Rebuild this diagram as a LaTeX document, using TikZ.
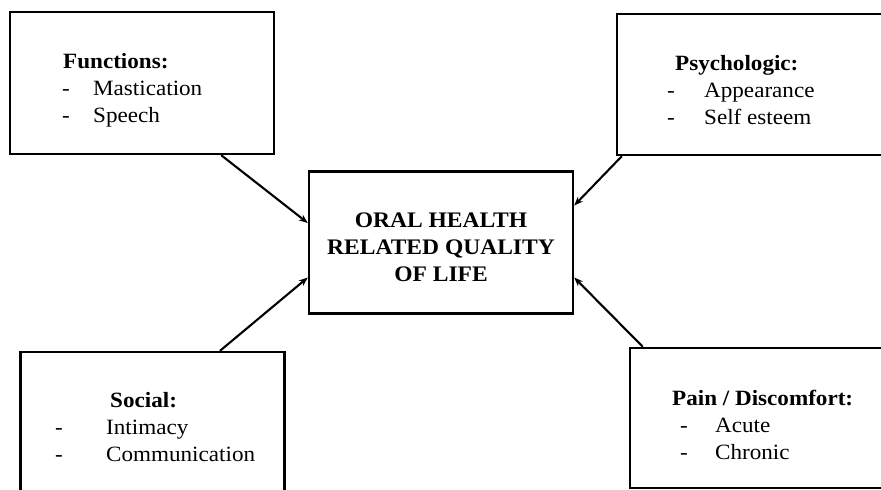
\documentclass[tikz,border=0pt]{standalone}
\usepackage{fontspec}
\setmainfont[FakeStretch=1.06]{Liberation Serif}
\usetikzlibrary{arrows.meta}

% title line, then two "-" items; #1 title indent, #2 gap after the dash
\newcommand{\factortext}[5]{\begin{tabular}[t]{@{}l@{}}\hspace*{#1pt}\textbf{#3}\\ \makebox[#2pt][l]{-}#4\\ \makebox[#2pt][l]{-}#5\end{tabular}}

\begin{document}
\begin{tikzpicture}[x=1pt,y=-1pt]
	\useasboundingbox (0,0) rectangle (881,490);
	\clip (0,0) rectangle (881,490);
	\tikzstyle{every node}=[font=\fontsize{21.8}{27}\selectfont, inner sep=0pt]
	\tikzstyle{frame}=[draw, line width=2.4pt, minimum width=264pt, minimum height=142pt]
	% the five boxes
	\draw (441,242.5) node[frame, align=center, font=\fontsize{22.2}{27}\selectfont\bfseries] (core) {\rule{0pt}{25pt}ORAL HEALTH\\RELATED QUALITY\\OF LIFE};
	\draw (142,83) node[frame] (p1) {};
	\draw (753,84.5) node[frame, minimum width=272pt, minimum height=141pt] (p2) {};
	\draw (152.5,423) node[frame] (p3) {};
	\draw (762,418) node[frame, minimum height=140pt] (p4) {};
	% their lists
	\draw (62,68) node[anchor=base west] (t1) {\factortext{1}{31}{Functions:}{Mastication}{Speech}};
	\draw (667,70) node[anchor=base west] (t2) {\factortext{8}{37}{Psychologic:}{Appearance}{Self esteem}};
	\draw (55,407) node[anchor=base west] (t3) {\factortext{55}{51}{Social:}{Intimacy}{Communication}};
	\draw (680,405) node[anchor=base west] (t4) {\factortext{-8}{35}{Pain / Discomfort:}{Acute}{Chronic}};
	% arrows into the centre box
	\tikzstyle{every path}=[line width=2.1pt, >={Stealth[length=9pt,width=7pt]}]
	\draw [->] ([xshift=-54pt]p1.south east) -- ([yshift=19.5pt]core.west);
	\draw [->] ([xshift=6pt]p2.south west) -- ([yshift=37pt]core.east);
	\draw [->] ([xshift=67.5pt]p3.north) -- ([yshift=-35pt]core.west);
	\draw [->] ([xshift=14pt]p4.north west) -- ([yshift=-35pt]core.east);
\end{tikzpicture}
\end{document}
